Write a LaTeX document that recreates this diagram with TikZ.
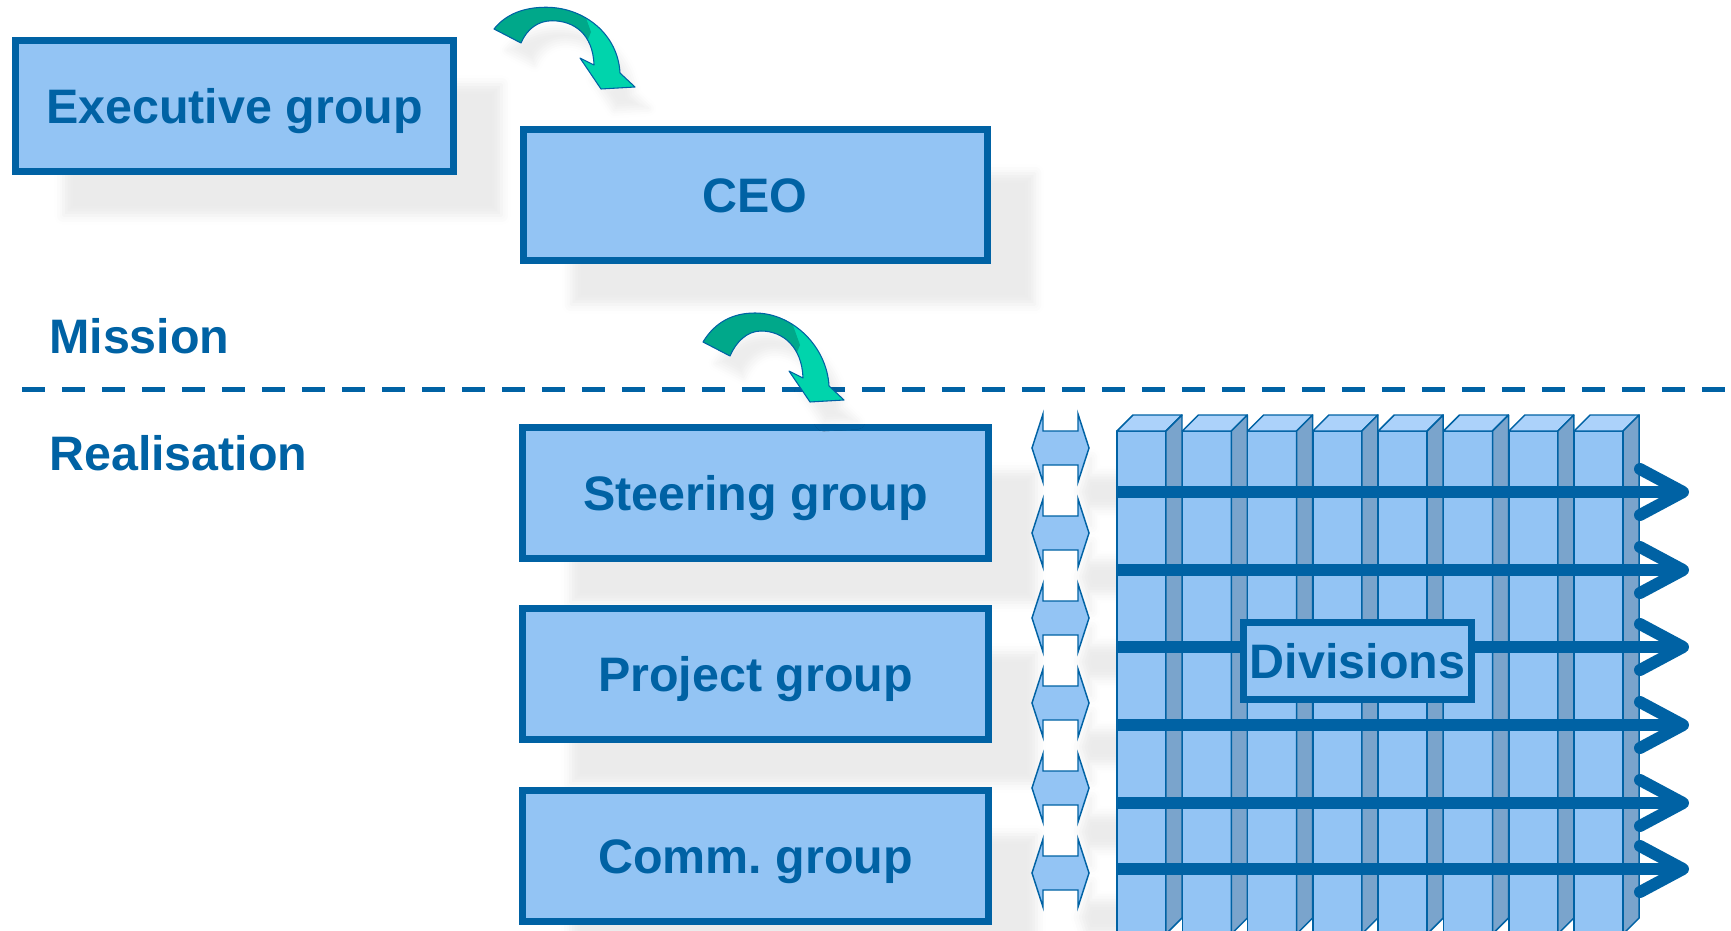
\documentclass[tikz,border=0pt]{standalone}
\usepackage{fontspec}
\setmainfont{Liberation Sans}
\usetikzlibrary{shadows.blur}

\definecolor{dkblue}{RGB}{0,98,164}
\definecolor{ltblue}{RGB}{147,196,244}
\definecolor{topblue}{RGB}{172,210,250}
\definecolor{sideblue}{RGB}{122,164,204}
\definecolor{dkgreen}{RGB}{0,168,138}
\definecolor{ltgreen}{RGB}{0,212,172}

\newcommand\grpfont{\fontsize{36.3}{43}\selectfont\bfseries}
\newcommand\bendshape[1]{(0,0) .. controls (12,-20*#1) and (30,-29*#1) .. (52,-29*#1) .. controls (90,-29*#1) and (124,5) .. (126,44) -- (141,58) -- (107,60) -- (86,29) -- (100,36) .. controls (99,5) and (80,-11*#1) .. (58,-11*#1) .. controls (44,-11*#1) and (33,0) .. (27,14) -- cycle}

\tikzset{
  grpbox/.style={draw=dkblue, line width=5.25pt, fill=ltblue, text=dkblue, font=\grpfont, text height=26pt, text depth=0pt, inner sep=0pt, minimum width=349.5pt, minimum height=98.25pt},
  softshadow/.style={blur shadow={shadow xshift=36pt, shadow yshift=-33pt, shadow opacity=8, shadow blur radius=7pt}},
  bendshadow/.style={blur shadow={shadow xshift=10pt, shadow yshift=-16pt, shadow opacity=7, shadow blur radius=6pt}},
  lbl/.style={text=dkblue, font=\grpfont, text height=26pt, text depth=0pt, inner sep=0pt, anchor=west},
  colface/.style={draw=dkblue, line width=1.1pt, line join=round},
  bar/.style={dkblue, line width=9pt},
  chev/.style={dkblue, line width=9pt, line cap=round, line join=round},
  dblarrow/.style={draw=dkblue, line width=1.1pt, fill=ltblue},
  bendline/.style={draw=dkblue, line width=0.8pt, line join=round}
}

\begin{document}
\begin{tikzpicture}[x=0.75pt,y=0.75pt,yscale=-1,xscale=1]
\useasboundingbox (0,0) rectangle (1731,931);

%Dashed separator
\draw [dkblue, line width=3.75pt, dash pattern={on 17.25pt off 12.75pt}] (22,389) -- (1731,389);

%Group boxes
\node [grpbox, softshadow, minimum width=328.5pt] (exec) at (234.5,106) {Executive group};
\node [grpbox, softshadow, minimum width=348pt] (ceo) at (755,195) {CEO};
\node [grpbox, softshadow] (steer) at (755.5,493) {Steering group};
\node [grpbox, softshadow] (proj) at (755.5,674) {Project group};
\node [grpbox, softshadow] (comm) at (755.5,856) {Comm.\ group};

%Side labels
\node [lbl] (mission) at (49,336) {Mission};
\node [lbl] (realis) at (49,453) {Realisation};

%Curved arrows
\foreach \px/\py/\k in {494/29/0.75, 703/342/1}{
  \begin{scope}[shift={(\px,\py)}]
    \fill [ltgreen, bendshadow] \bendshape{\k};
    \begin{scope}
      \clip (-10,-50) -- (78,-50) -- (97,3) -- (90,20) -- (-10,20) -- cycle;
      \fill [dkgreen] \bendshape{\k};
    \end{scope}
    \draw [bendline] \bendshape{\k};
  \end{scope}
}

%Double arrows
\foreach \y in {448,533,618,703,788,873}{
  \draw [dblarrow, softshadow] (1032,\y) -- (1043,\y-34) -- (1043,\y-17) -- (1078,\y-17) -- (1078,\y-34) -- (1089,\y) -- (1078,\y+34) -- (1078,\y+17) -- (1043,\y+17) -- (1043,\y+34) -- cycle;
}

%Columns
\foreach \i in {0,...,7}{
  \pgfmathsetmacro\xa{1117+65.3*\i}
  \draw [colface, fill=ltblue] (\xa,431) rectangle (\xa+49,934);
  \draw [colface, fill=topblue] (\xa,431) -- (\xa+16,415) -- (\xa+65,415) -- (\xa+49,431) -- cycle;
  \draw [colface, fill=sideblue] (\xa+49,431) -- (\xa+65,415) -- (\xa+65,918) -- (\xa+49,934) -- cycle;
}

%Bars with open heads
\foreach \y in {492,570,647,725,803,869}{
  \draw [bar] (1117,\y) -- (1683,\y);
  \draw [chev] (1640,\y-23) -- (1683,\y) -- (1640,\y+23);
}

%Divisions
\node [grpbox, minimum width=171pt, minimum height=57.75pt] (div) at (1357.5,661) {Divisions};

\end{tikzpicture}
\end{document}
